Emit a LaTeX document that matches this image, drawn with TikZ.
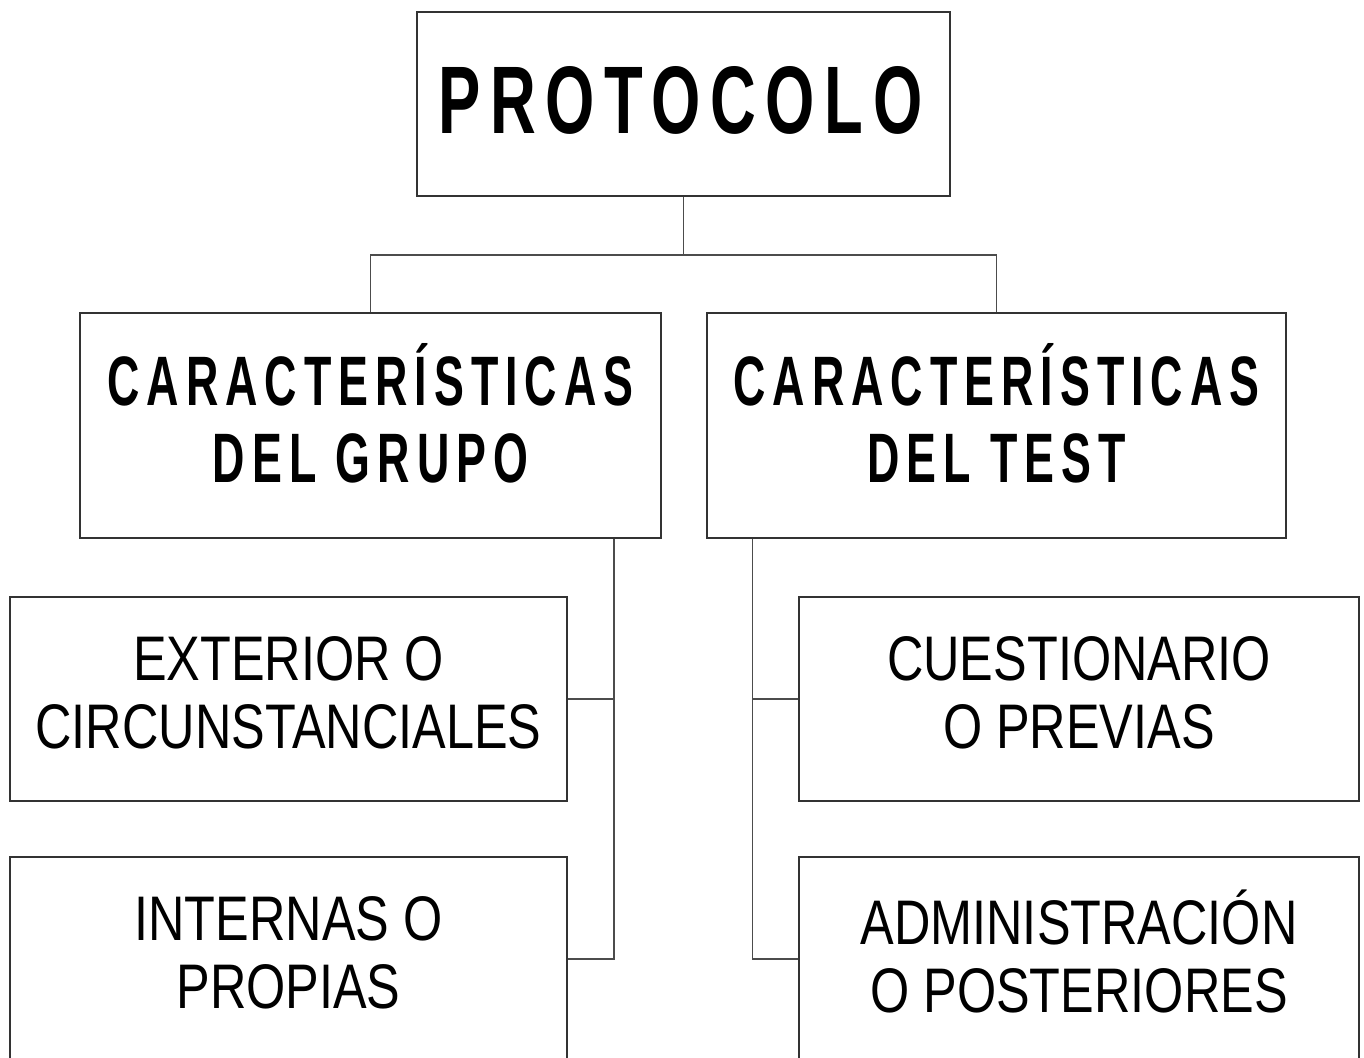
\documentclass[tikz,border=0pt]{standalone}
\usepackage{fontspec}
\setmainfont{Liberation Sans}
\newfontfamily\rootfont[FakeStretch=0.66,LetterSpace=10]{Liberation Sans}
\newfontfamily\headfont[FakeStretch=0.64,LetterSpace=10]{Liberation Sans}
\newfontfamily\leaffont[FakeStretch=0.80]{Liberation Sans}
\usetikzlibrary{positioning}
\tikzset{
    box/.style={rectangle, draw=black!80, line width=1.5pt, inner sep=0pt},
    link/.style={draw=black!70, line width=1.5pt},
    rootlabel/.style={align=center, inner sep=0pt, font=\rootfont\bfseries\fontsize{96}{100}\selectfont},
    headlabel/.style={align=center, inner sep=0pt, font=\headfont\bfseries\fontsize{70}{77}\selectfont},
    leaflabel/.style={align=center, inner sep=0pt, font=\leaffont\fontsize{63}{68}\selectfont}
}

\begin{document}
\begin{tikzpicture}[x=1pt, y=-1pt]
            % Page frame
            \useasboundingbox (0,0) rectangle (1364,1057);
            \fill[white] (0,0) rectangle (1364,1057);

            % Boxes
            \node[box, minimum width=533, minimum height=184] (prot) at (683.5,104) {};
            \node[box, minimum width=581, minimum height=225] (grupo) at (370.5,425.5) {};
            \node[box, minimum width=579, minimum height=225] (test) at (996.5,425.5) {};
            \node[box, minimum width=557, minimum height=204] (ext) at (288.5,699) {};
            \node[box, minimum width=557, minimum height=204] (int) at (288.5,959) {};
            \node[box, minimum width=560, minimum height=204] (cue) at (1079,699) {};
            \node[box, minimum width=560, minimum height=204] (adm) at (1079,959) {};

            % Texts
            \node[rootlabel] (prottxt) at ([xshift=-3,yshift=4]prot.center) {PROTOCOLO};
            \node[headlabel] (grupotxt) at ([yshift=12]grupo.center) {CARACTERÍSTICAS\\DEL GRUPO};
            \node[headlabel] (testtxt) at ([yshift=12]test.center) {CARACTERÍSTICAS\\DEL TEST};
            \node[leaflabel] (exttxt) at ([yshift=6]ext.center) {EXTERIOR O\\CIRCUNSTANCIALES};
            \node[leaflabel] (inttxt) at ([yshift=6]int.center) {INTERNAS O\\PROPIAS};
            \node[leaflabel] (cuetxt) at ([yshift=6]cue.center) {CUESTIONARIO\\O PREVIAS};
            \node[leaflabel] (admtxt) at ([yshift=8]adm.center) {ADMINISTRACIÓN\\O POSTERIORES};

            % Connectors
            \coordinate (split) at ([yshift=-58]prot.south);
            \coordinate (gtrunk) at ([xshift=-48]grupo.south east);
            \coordinate (ttrunk) at ([xshift=46]test.south west);
            \draw[link] (prot.south) -- (split);
            \draw[link] (grupo.north) |- (split) -| (test.north);
            \draw[link] (gtrunk) |- (int.east);
            \draw[link] (ext.east) -- (ext.east -| gtrunk);
            \draw[link] (ttrunk) |- (adm.west);
            \draw[link] (cue.west) -- (cue.west -| ttrunk);
\end{tikzpicture}
\end{document}
